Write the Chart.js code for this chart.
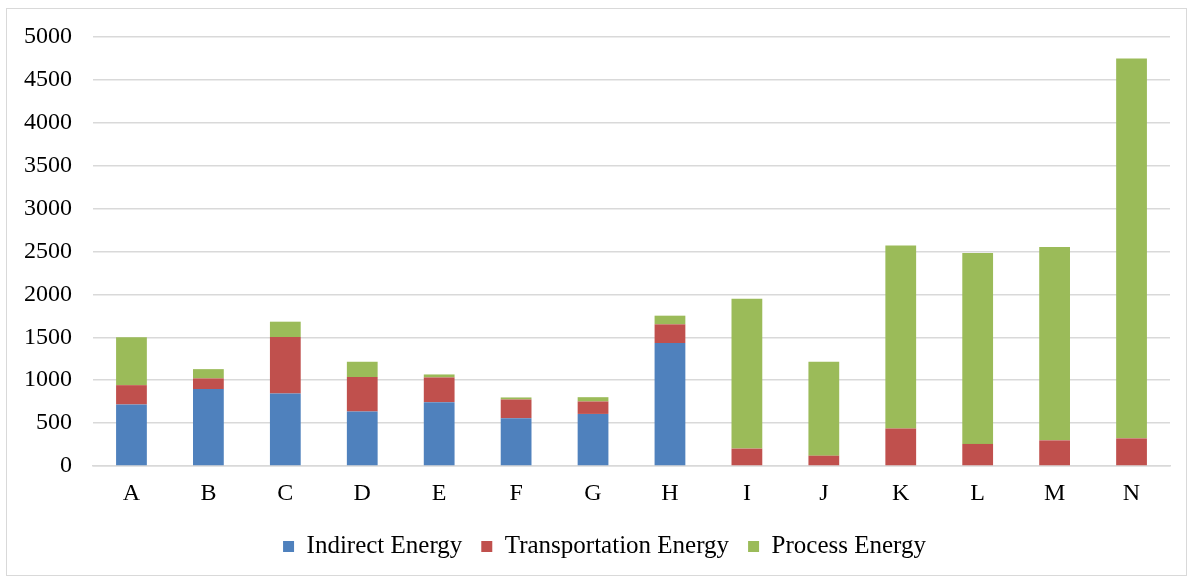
<!DOCTYPE html>
<html>
<head>
<meta charset="utf-8">
<script src="https://cdn.jsdelivr.net/npm/chart.js@4.4.0/dist/chart.umd.min.js"></script>
<style>
  body { margin: 0; background: #fff; }
  #box {
    position: absolute; left: 6px; top: 8px;
    width: 1179px; height: 566px;
    border: 1px solid #d9d9d9;
  }
</style>
</head>
<body>
<div id="box"><canvas id="energyChart" width="1179" height="566"></canvas></div>
<script>
const categories = ["A", "B", "C", "D", "E", "F", "G", "H", "I", "J", "K", "L", "M", "N"];
const indirectEnergy = [717, 896, 845, 635, 744, 557, 607, 1433, 0, 0, 0, 0, 0, 0];
const transportationEnergy = [225, 125, 658, 401, 288, 218, 145, 218, 203, 120, 436, 257, 299, 322];
const processEnergy = [560, 108, 179, 179, 35, 24, 50, 101, 1745, 1095, 2134, 2226, 2254, 4428];
const yTicks = [0, 500, 1000, 1500, 2000, 2500, 3000, 3500, 4000, 4500, 5000];

const serif = "'Liberation Serif', 'Times New Roman', serif";

// chart.js centres the legend a bit to the left, nudge it back
const legendShift = {
  id: "legendShift",
  afterLayout(chart) {
    chart.legend.left += 16;
    chart.legend.right += 16;
  }
};

const ctx = document.getElementById("energyChart").getContext("2d");
const energyChart = new Chart(ctx, {
  type: "bar",
  data: {
    labels: categories,
    datasets: [
      { label: "Indirect Energy", data: indirectEnergy, backgroundColor: "#4F81BD" },
      { label: "Transportation Energy", data: transportationEnergy, backgroundColor: "#C0504D" },
      { label: "Process Energy", data: processEnergy, backgroundColor: "#9BBB59" }
    ]
  },
  options: {
    responsive: false,
    animation: false,
    layout: { padding: { left: 0, right: 16, top: 28, bottom: 6 } },
    datasets: { bar: { categoryPercentage: 0.8, barPercentage: 0.5 } },
    scales: {
      x: {
        stacked: true,
        grid: { display: false, drawTicks: false },
        border: { color: "#d9d9d9", width: 1.5 },
        ticks: { color: "#000", padding: 13, font: { family: serif, size: 24 } },
        afterFit: function(scale) { scale.height = 49; }
      },
      y: {
        stacked: true,
        min: 0,
        max: 5000,
        afterBuildTicks: function(scale) { scale.ticks = yTicks.map(v => ({ value: v })); },
        grid: { color: "#d9d9d9", lineWidth: 1.5, drawTicks: false },
        border: { display: false },
        ticks: {
          color: "#000", padding: 21, font: { family: serif, size: 24 },
          callback: function(value) { return String(value); }
        },
        afterFit: function(scale) {
          scale.width = 86;
          scale.paddingTop = 0;
          scale.paddingBottom = 0;
        }
      }
    },
    plugins: {
      tooltip: { enabled: false },
      legend: {
        position: "bottom",
        labels: {
          color: "#000",
          boxWidth: 11,
          boxHeight: 11,
          padding: 19,
          font: { family: serif, size: 25 }
        }
      }
    }
  },
  plugins: [legendShift]
});
</script>
</body>
</html>
